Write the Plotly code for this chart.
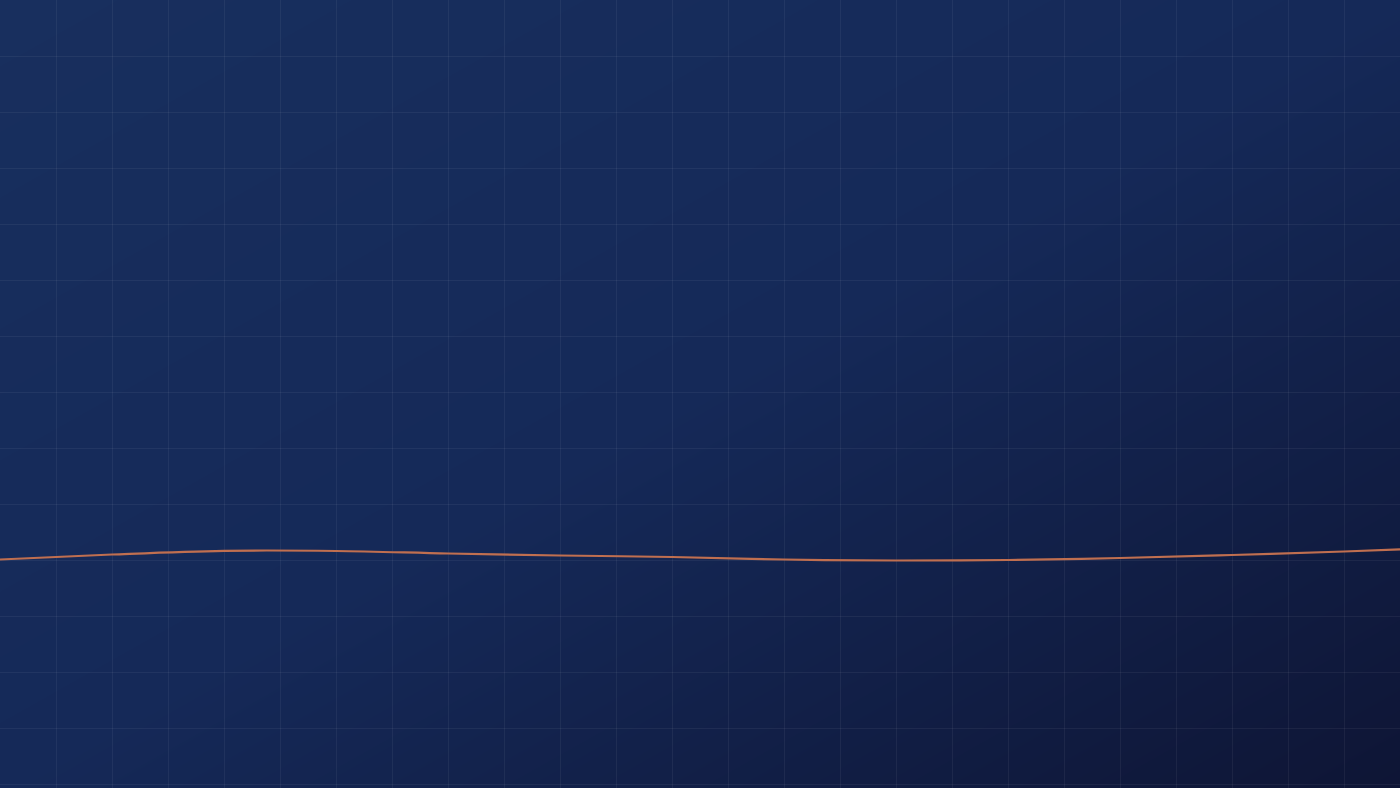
import plotly.graph_objects as go

# ---- data ----
# x positions in grid units (one grid cell = one unit)
x_vals = [0, 2, 4, 6, 8, 10, 12, 14, 16, 18, 20, 22, 24, 25]
# line values in grid units (bottom of chart = -0.0714, top = 14)
y_vals = [4.009, 4.098, 4.164, 4.161, 4.116, 4.080, 4.054, 4.009,
          3.991, 4.000, 4.036, 4.089, 4.152, 4.191]

# background gradient corner values (rows: bottom, top; cols: left, right)
grad_x = [0, 1]
grad_y = [0, 1]
grad_z = [[0.5, 0.0],
          [1.0, 0.5]]
grad_colors = [[0.0, "#0e1535"], [0.5, "#152958"], [1.0, "#182f5e"]]

x_range = [0, 25]
y_range = [-0.0714, 14]

fig = go.Figure()

# gradient background (subplot xy, drawn first)
fig.add_trace(go.Heatmap(
    x=grad_x, y=grad_y, z=grad_z,
    colorscale=grad_colors, zsmooth="best", showscale=False,
    hoverinfo="skip", xaxis="x", yaxis="y",
))

# main line (subplot x2y2, drawn on top with its own grid)
fig.add_trace(go.Scatter(
    x=x_vals, y=y_vals, mode="lines",
    line=dict(color="#c06f50", width=2.2, shape="spline", smoothing=1.0),
    hoverinfo="skip", showlegend=False,
    xaxis="x2", yaxis="y2",
))

hidden = dict(showgrid=False, zeroline=False, showticklabels=False,
              showline=False, ticks="", fixedrange=True)

fig.update_layout(
    width=1400, height=788,
    margin=dict(l=0, r=0, t=0, b=0, pad=0),
    paper_bgcolor="#121f47",
    plot_bgcolor="rgba(0,0,0,0)",
    showlegend=False,
    xaxis=dict(domain=[0, 1], range=[0, 1], **hidden),
    yaxis=dict(domain=[0, 1], range=[0, 1], **hidden),
    xaxis2=dict(domain=[0, 1], range=x_range, anchor="y2",
                showgrid=True, gridcolor="rgba(255,255,255,0.055)", gridwidth=1.2,
                tick0=0, dtick=1, zeroline=False, showticklabels=False,
                showline=False, ticks="", fixedrange=True),
    yaxis2=dict(domain=[0, 1], range=y_range, anchor="x2",
                showgrid=True, gridcolor="rgba(255,255,255,0.055)", gridwidth=1.2,
                tick0=0, dtick=1, zeroline=False, showticklabels=False,
                showline=False, ticks="", fixedrange=True),
)

fig.write_html(
    "out.html",
    config={"displayModeBar": False},
    post_script="document.body.style.margin='0';document.body.style.overflow='hidden';",
)
